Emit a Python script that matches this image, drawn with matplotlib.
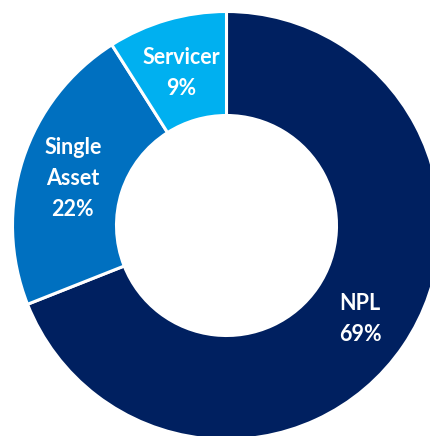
import numpy as np
import matplotlib.pyplot as plt

labels = ['NPL', 'Single\nAsset', 'Servicer']
shares = [69, 22, 9]
colors = ['#002060', '#0070C0', '#00B0F0']

fig = plt.figure(figsize=(4.30, 4.36), dpi=100)
ax = fig.add_axes([0, 0, 1, 1])

R = 214
cx, cy = 226.5, 436 - 225.5
wedges, _ = ax.pie(shares, colors=colors, startangle=90, counterclock=False,
                   radius=R, center=(cx, cy), frame=True,
                   wedgeprops=dict(width=R - 110, edgecolor='white', linewidth=2.2))
ax.set_xlim(0, 430)
ax.set_ylim(0, 436)
ax.set_aspect('equal')
ax.axis('off')

# labels sit inside each wedge
for w, lab, val in zip(wedges, labels, shares):
    ang = np.deg2rad((w.theta1 + w.theta2) / 2)
    x = cx + 0.755 * R * np.cos(ang)
    y = cy + 0.755 * R * np.sin(ang) - 3
    ax.text(x, y, f'{lab}\n{val}%', ha='center', va='center', color='white',
            fontsize=15.5, fontweight='bold', family='Lato', linespacing=1.6)

fig.savefig('out.png', dpi=100)
